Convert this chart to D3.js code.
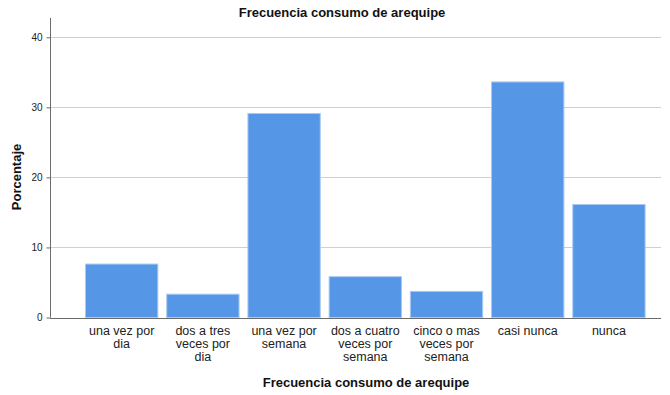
<!DOCTYPE html>
<html>
<head>
<meta charset="utf-8">
<script src="https://cdn.jsdelivr.net/npm/d3@7"></script>
<style>
  body { margin: 0; background: #fff; }
  svg { display: block; font-family: "Liberation Sans", Arial, sans-serif; }
</style>
</head>
<body>
<svg id="chart" width="670" height="395"></svg>
<script>
const categories = [
  ["una vez por", "dia"],
  ["dos a tres", "veces por", "dia"],
  ["una vez por", "semana"],
  ["dos a cuatro", "veces por", "semana"],
  ["cinco o mas", "veces por", "semana"],
  ["casi nunca"],
  ["nunca"]
];
const values = [7.7, 3.4, 29.2, 5.9, 3.8, 33.7, 16.2];
const yTicks = [0, 10, 20, 30, 40];
const title = "Frecuencia consumo de arequipe";
const xTitle = "Frecuencia consumo de arequipe";
const yTitle = "Porcentaje";

const svg = d3.select("#chart");
const plotLeft = 50, plotRight = 661, plotTop = 27, plotBottom = 317.5;

const keys = categories.map((c, i) => i);
const x = d3.scaleBand().domain(keys).range([85, 645.6]).paddingInner(0.097).paddingOuter(0);
const y = d3.scaleLinear().domain([0, 40]).range([plotBottom, 37.3]);

// gridlines
svg.append("g").selectAll("line").data(yTicks.filter(d => d > 0)).join("line")
  .attr("x1", plotLeft).attr("x2", plotRight)
  .attr("y1", d => Math.round(y(d)) + 0.5).attr("y2", d => Math.round(y(d)) + 0.5)
  .attr("stroke", "#cfcfcf").attr("stroke-width", 1);

// bars
svg.append("g").selectAll("rect").data(values).join("rect")
  .attr("x", (d, i) => x(i) + 0.5)
  .attr("y", d => y(d) + 0.5)
  .attr("width", x.bandwidth() - 1)
  .attr("height", d => plotBottom - y(d) - 0.5)
  .attr("fill", "#5596e6")
  .attr("stroke", "#a9c9f2")
  .attr("stroke-width", 1);

// y axis
const yAxis = d3.axisLeft(y).tickValues(yTicks).tickSize(4).tickPadding(4).tickFormat(d3.format("d"));
const gy = svg.append("g").attr("transform", `translate(${plotLeft + 0.5},0)`).call(yAxis);
gy.select(".domain").attr("d", `M-0,${plotBottom}V${plotTop - 9}`).attr("stroke", "#6b6b6b");
gy.selectAll(".tick line").attr("stroke", "#6b6b6b");
gy.selectAll(".tick text").attr("font-size", 10).attr("fill", "#222").attr("font-family", "Liberation Sans, Arial, sans-serif");

// x axis line
svg.append("line").attr("x1", plotLeft).attr("x2", plotRight)
  .attr("y1", Math.round(plotBottom) + 0.5).attr("y2", Math.round(plotBottom) + 0.5)
  .attr("stroke", "#6b6b6b");

// x category labels
const xl = svg.append("g");
categories.forEach((lines, i) => {
  const t = xl.append("text")
    .attr("x", x(i) + x.bandwidth() / 2)
    .attr("y", 335)
    .attr("text-anchor", "middle")
    .attr("font-size", 12.5)
    .attr("fill", "#222");
  lines.forEach((ln, j) => {
    t.append("tspan").attr("x", x(i) + x.bandwidth() / 2).attr("dy", j === 0 ? 0 : 13).text(ln);
  });
});

// titles
svg.append("text").attr("x", 342).attr("y", 17).attr("text-anchor", "middle")
  .attr("font-size", 13).attr("font-weight", "bold").attr("fill", "#111").text(title);
svg.append("text").attr("x", 366).attr("y", 387).attr("text-anchor", "middle")
  .attr("font-size", 13).attr("font-weight", "bold").attr("fill", "#111").text(xTitle);
svg.append("text").attr("transform", `translate(21,177) rotate(-90)`).attr("text-anchor", "middle")
  .attr("font-size", 13).attr("font-weight", "bold").attr("fill", "#111").text(yTitle);
</script>
</body>
</html>
